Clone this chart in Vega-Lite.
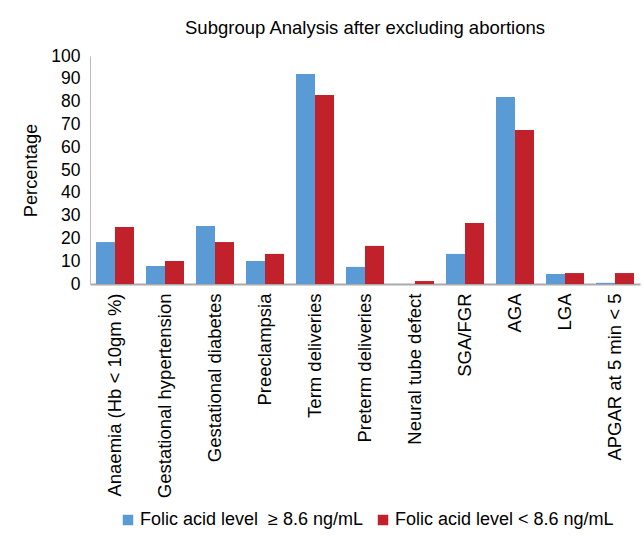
{
  "$schema": "https://vega.github.io/schema/vega-lite/v6.json",
  "autosize": "none",
  "width": 550,
  "height": 228,
  "padding": {"left": 90, "top": 56, "right": 4, "bottom": 252},
  "background": "white",
  "title": {
    "text": "Subgroup Analysis after excluding abortions",
    "font": "Liberation Sans",
    "fontSize": 18.5,
    "fontWeight": "normal",
    "color": "#000",
    "anchor": "middle",
    "offset": 10
  },
  "data": {
    "values": [
      {"outcome": "Anaemia (Hb < 10gm %)", "group": "Folic acid level  ≥ 8.6 ng/mL", "value": 18.4},
      {"outcome": "Anaemia (Hb < 10gm %)", "group": "Folic acid level < 8.6 ng/mL", "value": 25.0},
      {"outcome": "Gestational hypertension", "group": "Folic acid level  ≥ 8.6 ng/mL", "value": 7.9},
      {"outcome": "Gestational hypertension", "group": "Folic acid level < 8.6 ng/mL", "value": 10.1},
      {"outcome": "Gestational diabetes", "group": "Folic acid level  ≥ 8.6 ng/mL", "value": 25.4},
      {"outcome": "Gestational diabetes", "group": "Folic acid level < 8.6 ng/mL", "value": 18.4},
      {"outcome": "Preeclampsia", "group": "Folic acid level  ≥ 8.6 ng/mL", "value": 10.1},
      {"outcome": "Preeclampsia", "group": "Folic acid level < 8.6 ng/mL", "value": 13.2},
      {"outcome": "Term deliveries", "group": "Folic acid level  ≥ 8.6 ng/mL", "value": 92.1},
      {"outcome": "Term deliveries", "group": "Folic acid level < 8.6 ng/mL", "value": 82.9},
      {"outcome": "Preterm deliveries", "group": "Folic acid level  ≥ 8.6 ng/mL", "value": 7.5},
      {"outcome": "Preterm deliveries", "group": "Folic acid level < 8.6 ng/mL", "value": 16.7},
      {"outcome": "Neural tube defect", "group": "Folic acid level  ≥ 8.6 ng/mL", "value": 0},
      {"outcome": "Neural tube defect", "group": "Folic acid level < 8.6 ng/mL", "value": 1.3},
      {"outcome": "SGA/FGR", "group": "Folic acid level  ≥ 8.6 ng/mL", "value": 13.2},
      {"outcome": "SGA/FGR", "group": "Folic acid level < 8.6 ng/mL", "value": 26.8},
      {"outcome": "AGA", "group": "Folic acid level  ≥ 8.6 ng/mL", "value": 82.0},
      {"outcome": "AGA", "group": "Folic acid level < 8.6 ng/mL", "value": 67.5},
      {"outcome": "LGA", "group": "Folic acid level  ≥ 8.6 ng/mL", "value": 4.4},
      {"outcome": "LGA", "group": "Folic acid level < 8.6 ng/mL", "value": 4.8},
      {"outcome": "APGAR at 5 min < 5", "group": "Folic acid level  ≥ 8.6 ng/mL", "value": 0.5},
      {"outcome": "APGAR at 5 min < 5", "group": "Folic acid level < 8.6 ng/mL", "value": 4.8}
    ]
  },
  "mark": {"type": "bar"},
  "encoding": {
    "x": {
      "field": "outcome",
      "type": "nominal",
      "sort": null,
      "scale": {"paddingInner": 0.24, "paddingOuter": 0.12},
      "axis": {
        "title": null,
        "labelAngle": -90,
        "labelAlign": "right",
        "labelBaseline": "middle",
        "labelFont": "Liberation Sans",
        "labelFontSize": 18.5,
        "labelColor": "#000",
        "labelPadding": 9,
        "labelLimit": 300,
        "ticks": false,
        "domainColor": "#aaaaaa",
        "domainWidth": 2
      }
    },
    "xOffset": {
      "field": "group",
      "type": "nominal",
      "sort": ["Folic acid level  ≥ 8.6 ng/mL", "Folic acid level < 8.6 ng/mL"],
      "scale": {"paddingInner": 0, "paddingOuter": 0}
    },
    "y": {
      "field": "value",
      "type": "quantitative",
      "scale": {"domain": [0, 100], "nice": false},
      "axis": {
        "title": "Percentage",
        "titleFont": "Liberation Sans",
        "titleFontSize": 18.3,
        "titleFontWeight": "normal",
        "titleColor": "#000",
        "titlePadding": 10,
        "values": [0, 10, 20, 30, 40, 50, 60, 70, 80, 90, 100],
        "labelFont": "Liberation Sans",
        "labelFontSize": 17.5,
        "labelColor": "#000",
        "labelPadding": 10,
        "ticks": false,
        "grid": false,
        "domainColor": "#bbbbbb",
        "domainWidth": 1
      }
    },
    "color": {
      "field": "group",
      "type": "nominal",
      "scale": {
        "domain": ["Folic acid level  ≥ 8.6 ng/mL", "Folic acid level < 8.6 ng/mL"],
        "range": ["#5b9bd5", "#c0212a"]
      },
      "legend": {
        "title": null,
        "orient": "none",
        "legendX": 29,
        "legendY": 455,
        "direction": "horizontal",
        "symbolType": "square",
        "symbolSize": 110,
        "symbolStrokeWidth": 0,
        "labelFont": "Liberation Sans",
        "labelFontSize": 18,
        "labelColor": "#000",
        "labelOffset": 3,
        "columnPadding": 11,
        "labelLimit": 300,
        "labelExpr": "replace(datum.label, '  ', ' \u00a0')"
      }
    }
  },
  "config": {"view": {"stroke": null}}
}
